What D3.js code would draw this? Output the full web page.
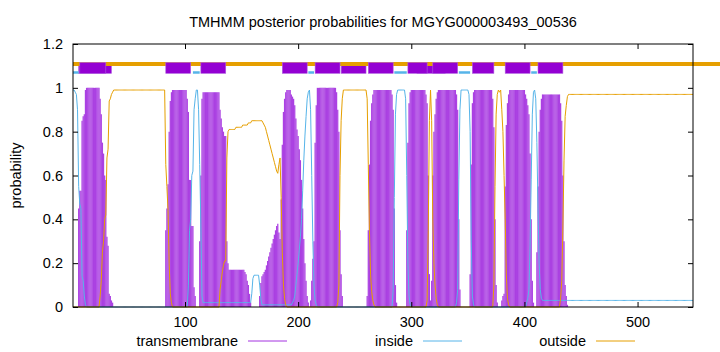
<!DOCTYPE html>
<html>
<head>
<meta charset="utf-8">
<script src="https://cdn.jsdelivr.net/npm/d3@7"></script>
<style>
  body { margin: 0; background: #fff; }
  text { font-family: "Liberation Sans", Arial, sans-serif; fill: #000; }
</style>
</head>
<body>
<div id="chart"></div>
<script>
// posterior probability per residue (residue 1..549), ten values per line
const transmembrane = [
  0,0,0,0,0,.45,.53,.53,.85,.87,
  .88,.99,1,1,1,1,1,1,1,1,
  1,1,1,1,.95,.88,.75,.7,.6,.58,
  .32,.28,.06,.05,.03,.02,0,0,0,0,
  0,0,0,0,0,0,0,0,0,0,
  0,0,0,0,0,0,0,0,0,0,
  0,0,0,0,0,0,0,0,0,0,
  0,0,0,0,0,0,0,0,0,0,
  0,0,.35,.45,.56,.8,.94,.98,.99,.99,
  .99,.99,.99,.99,.99,.99,.99,.99,.99,.99,
  .99,.95,.89,.58,.58,.37,.37,.09,.05,0,
  0,0,.3,.6,.95,.98,.98,.98,.98,.98,
  .98,.98,.98,.98,.98,.98,.98,.98,.98,.98,
  .9,.86,.82,.8,.78,.78,.3,.2,.17,.17,
  .17,.17,.17,.17,.17,.17,.17,.17,.17,.17,
  .17,.17,.16,.15,.12,.1,.06,.02,0,0,
  0,0,0,0,0,.05,.11,.14,.15,.16,
  .17,.19,.21,.23,.25,.27,.29,.31,.33,.35,
  .37,.38,.34,.31,.49,.74,.89,.95,.98,.99,
  .99,.99,.99,.97,.96,.95,.92,.86,.81,.78,
  .72,.67,.58,.45,.31,.2,.12,.05,.02,0,
  .03,.12,.22,.3,.75,.92,1,1,1,1,
  1,1,1,1,1,1,1,1,1,1,
  1,1,1,.98,.9,.8,.35,.15,.05,0,
  0,0,0,0,0,0,0,0,0,0,
  0,0,0,0,0,0,0,0,0,0,
  .05,.35,.65,.85,.93,.97,.99,.99,.99,.99,
  .99,.99,.99,.99,.99,.99,.99,.99,.99,.99,
  .99,.99,.97,.9,.45,.1,.02,0,0,0,
  0,0,0,0,0,.35,.75,.93,.98,.99,
  .99,.99,.99,.99,.99,.99,.99,.99,.99,.99,
  .99,.99,.97,.93,.6,.15,.03,.12,.6,.8,
  .88,.95,.98,.99,.99,.99,.99,.99,.99,.99,
  .99,.99,.99,.99,.99,.99,.99,.99,.99,.97,
  .9,.4,.08,0,0,0,0,0,0,0,
  0,.15,.65,.93,.98,.99,.99,.99,.99,.99,
  .99,.99,.99,.99,.99,.99,.99,.99,.99,.99,
  .99,.95,.82,.4,.1,.02,0,0,0,.03,
  .05,.06,.55,.83,.93,.97,.99,.99,.99,.99,
  .99,.99,.99,.99,.99,.99,.99,.99,.99,.99,
  .97,.95,.92,.88,.7,.4,.12,.02,0,0,
  .25,.55,.8,.9,.95,.97,.97,.97,.97,.97,
  .97,.97,.97,.97,.97,.97,.97,.97,.97,.97,
  .97,.93,.85,.6,.3,.1,.05,.01,0,0,
  0,0,0,0,0,0,0,0,0,0,
  0,0,0,0,0,0,0,0,0,0,
  0,0,0,0,0,0,0,0,0,0,
  0,0,0,0,0,0,0,0,0,0,
  0,0,0,0,0,0,0,0,0,0,
  0,0,0,0,0,0,0,0,0,0,
  0,0,0,0,0,0,0,0,0,0,
  0,0,0,0,0,0,0,0,0,0,
  0,0,0,0,0,0,0,0,0,0,
  0,0,0,0,0,0,0,0,0,0,
  0,0,0,0,0,0,0,0,0
];

const inside = [
  .99,.99,.98,.97,.9,.55,.47,.45,.14,.12,
  .05,.01,0,0,0,0,0,0,0,0,
  0,0,0,0,0,0,0,0,0,0,
  0,0,0,0,0,0,0,0,0,0,
  0,0,0,0,0,0,0,0,0,0,
  0,0,0,0,0,0,0,0,0,0,
  0,0,0,0,0,0,0,0,0,0,
  0,0,0,0,0,0,0,0,0,0,
  0,0,0,0,0,0,0,0,0,0,
  0,0,0,0,0,0,0,0,0,0,
  0,0,.1,.35,.4,.6,.62,.9,.95,.99,
  .99,.9,.65,.38,.05,.02,.02,.02,.02,.02,
  .02,.02,.02,.02,.02,.02,.02,.02,.02,.02,
  .02,.02,.02,.02,.02,.02,.02,.02,.02,.02,
  .02,.02,.02,.02,.02,.02,.02,.02,.02,.02,
  .02,.02,.02,.02,.02,.02,.02,.02,.06,.13,
  .145,.145,.145,.145,.145,.1,.04,.01,.01,.01,
  .01,.01,.01,.01,.01,.01,.01,.01,.01,.01,
  .01,.01,.01,.01,.01,.01,.01,.01,.01,.01,
  .01,.01,.01,.01,.02,.03,.05,.1,.15,.2,
  .26,.32,.4,.53,.67,.78,.87,.95,.98,.99,
  .9,.6,.3,.1,.03,.01,0,0,0,0,
  0,0,0,0,0,0,0,0,0,0,
  0,0,0,0,0,0,0,0,0,0,
  0,0,0,0,0,0,0,0,0,0,
  0,0,0,0,0,0,0,0,0,0,
  0,0,0,0,0,0,0,0,0,0,
  0,0,0,0,0,0,0,0,0,0,
  0,0,0,.08,.5,.88,.97,.99,.99,.99,
  .99,.99,.99,.99,.95,.6,.2,.05,.01,0,
  0,0,0,0,0,0,0,0,0,0,
  0,0,0,0,0,0,0,0,0,0,
  0,0,0,0,0,0,0,0,0,0,
  0,0,0,0,0,0,0,0,0,.02,
  .08,.58,.9,.99,.99,.99,.99,.99,.99,.99,
  .97,.8,.3,.05,.01,0,0,0,0,0,
  0,0,0,0,0,0,0,0,0,0,
  0,0,0,0,0,0,0,0,0,0,
  0,0,0,0,0,0,0,0,0,0,
  0,0,0,0,0,0,0,0,0,0,
  0,.02,.04,.08,.28,.58,.88,.98,.99,.95,
  .75,.45,.2,.08,.04,.03,.03,.03,.03,.03,
  .03,.03,.03,.03,.03,.03,.03,.03,.03,.03,
  .03,.03,.03,.03,.03,.03,.03,.03,.03,.03,
  .03,.03,.03,.03,.03,.03,.03,.03,.03,.03,
  .03,.03,.03,.03,.03,.03,.03,.03,.03,.03,
  .03,.03,.03,.03,.03,.03,.03,.03,.03,.03,
  .03,.03,.03,.03,.03,.03,.03,.03,.03,.03,
  .03,.03,.03,.03,.03,.03,.03,.03,.03,.03,
  .03,.03,.03,.03,.03,.03,.03,.03,.03,.03,
  .03,.03,.03,.03,.03,.03,.03,.03,.03,.03,
  .03,.03,.03,.03,.03,.03,.03,.03,.03,.03,
  .03,.03,.03,.03,.03,.03,.03,.03,.03,.03,
  .03,.03,.03,.03,.03,.03,.03,.03,.03,.03,
  .03,.03,.03,.03,.03,.03,.03,.03,.03
];

const outside = [
  0,0,0,0,0,0,0,0,0,0,
  0,0,0,0,0,0,0,0,0,0,
  0,0,0,0,.05,.12,.25,.3,.4,.42,
  .68,.72,.94,.95,.97,.98,.99,.99,.99,.99,
  .99,.99,.99,.99,.99,.99,.99,.99,.99,.99,
  .99,.99,.99,.99,.99,.99,.99,.99,.99,.99,
  .99,.99,.99,.99,.99,.99,.99,.99,.99,.99,
  .99,.99,.99,.99,.99,.99,.99,.99,.99,.99,
  .99,.99,.65,.55,.44,.2,.06,.02,0,0,
  0,0,0,0,0,0,0,0,0,0,
  0,0,0,0,0,0,0,0,0,0,
  0,0,0,0,0,0,0,0,0,0,
  0,0,0,0,0,0,0,0,0,0,
  .08,.12,.16,.19,.21,.21,.68,.8,.81,.81,
  .81,.81,.81,.81,.82,.82,.82,.82,.82,.82,
  .83,.83,.83,.83,.83,.84,.84,.84,.85,.85,
  .85,.85,.85,.85,.85,.85,.85,.85,.84,.83,
  .82,.8,.78,.76,.74,.72,.7,.68,.66,.64,
  .62,.61,.65,.68,.5,.25,.1,.04,.01,0,
  0,0,0,0,0,0,0,0,0,0,
  0,0,0,0,0,0,0,0,0,0,
  0,0,0,0,0,0,0,0,0,0,
  0,0,0,0,0,0,0,0,0,0,
  0,0,0,0,.02,.1,.6,.85,.95,.99,
  .99,.99,.99,.99,.99,.99,.99,.99,.99,.99,
  .99,.99,.99,.99,.99,.99,.99,.99,.99,.99,
  .95,.65,.35,.15,.07,.03,.01,0,0,0,
  0,0,0,0,0,0,0,0,0,0,
  0,0,0,0,0,0,0,0,0,0,
  0,0,0,0,0,0,0,0,0,0,
  0,0,0,0,0,0,0,0,0,0,
  0,0,0,.03,.35,.85,.99,.85,.4,.2,
  .1,.04,.01,0,0,0,0,0,0,0,
  0,0,0,0,0,0,0,0,0,0,
  0,0,0,0,0,0,0,0,0,0,
  0,0,0,0,0,0,0,0,0,0,
  0,0,0,0,0,0,0,0,0,0,
  0,0,.1,.55,.88,.97,.99,.98,.99,.9,
  .8,.6,.4,.15,.04,.01,0,0,0,0,
  0,0,0,0,0,0,0,0,0,0,
  0,0,0,0,0,0,0,0,0,0,
  0,0,0,0,0,0,0,0,0,0,
  0,0,0,0,0,0,0,0,0,0,
  0,.04,.12,.37,.67,.87,.92,.96,.97,.97,
  .97,.97,.97,.97,.97,.97,.97,.97,.97,.97,
  .97,.97,.97,.97,.97,.97,.97,.97,.97,.97,
  .97,.97,.97,.97,.97,.97,.97,.97,.97,.97,
  .97,.97,.97,.97,.97,.97,.97,.97,.97,.97,
  .97,.97,.97,.97,.97,.97,.97,.97,.97,.97,
  .97,.97,.97,.97,.97,.97,.97,.97,.97,.97,
  .97,.97,.97,.97,.97,.97,.97,.97,.97,.97,
  .97,.97,.97,.97,.97,.97,.97,.97,.97,.97,
  .97,.97,.97,.97,.97,.97,.97,.97,.97,.97,
  .97,.97,.97,.97,.97,.97,.97,.97,.97,.97,
  .97,.97,.97,.97,.97,.97,.97,.97,.97
];

// predicted topology drawn above the curves: [first residue, last residue]
const tmBoxesUnder = [[6, 35], [238, 260], [305, 330]];
const tmBoxesOver = [[7, 30], [83, 105], [114, 136], [186, 208], [215, 237], [262, 284],
  [297, 314], [319, 341], [354, 373], [383, 405], [412, 434]];
const insideSegments = [[1, 6], [107, 113], [209, 214], [285, 296], [342, 352], [406, 411]];
const outsideSegments = [[1, 573]];

const xTicks = [100, 200, 300, 400, 500];
const yTicks = [0, 0.2, 0.4, 0.6, 0.8, 1, 1.2];
const yTickLabels = ["0", "0.2", "0.4", "0.6", "0.8", "1", "1.2"];
const seqLength = 549;
const title = "TMHMM posterior probabilities for MGYG000003493_00536";

const width = 720;
const height = 352;
const margin = { top: 44, right: 27, bottom: 45, left: 73 };

const colors = { tm: "#9400d3", tmFill: "#a432e0", inside: "#56b4e9", outside: "#e69f00" };

const svg = d3.select("#chart")
    .append("svg")
    .attr("width", width)
    .attr("height", height);

const x = d3.scaleLinear()
    .domain([1, seqLength])
    .range([margin.left, width - margin.right]);

const y = d3.scaleLinear()
    .domain([0, 1.2])
    .range([height - margin.bottom, margin.top]);

const residues = d3.range(1, seqLength + 1);

// transmembrane probability as impulses
svg.append("g")
    .selectAll("line")
    .data(residues.filter(r => transmembrane[r - 1] > 0))
    .enter()
    .append("line")
    .attr("x1", r => x(r))
    .attr("x2", r => x(r))
    .attr("y1", y(0))
    .attr("y2", r => y(transmembrane[r - 1]))
    .attr("stroke", colors.tmFill)
    .attr("stroke-opacity", 0.92)
    .attr("stroke-width", 1.25);

const line = values => d3.line()
    .x(r => x(r))
    .y(r => y(values[r - 1]))(residues);

svg.append("path")
    .attr("d", line(inside))
    .attr("fill", "none")
    .attr("stroke", colors.inside)
    .attr("stroke-width", 1);

svg.append("path")
    .attr("d", line(outside))
    .attr("fill", "none")
    .attr("stroke", colors.outside)
    .attr("stroke-width", 1);

// topology strip at the top
const boxTop = y(1.115), boxBottom = y(1.066);
function drawBoxes(list) {
    svg.append("g")
        .selectAll("rect")
        .data(list)
        .enter()
        .append("rect")
        .attr("x", d => x(d[0]))
        .attr("width", d => x(d[1]) - x(d[0]))
        .attr("y", boxTop)
        .attr("height", boxBottom - boxTop)
        .attr("fill", colors.tm)
        .attr("stroke", "#b060e0")
        .attr("stroke-width", 0.6);
}

drawBoxes(tmBoxesUnder);

svg.append("g")
    .selectAll("line")
    .data(outsideSegments)
    .enter()
    .append("line")
    .attr("x1", d => x(d[0]))
    .attr("x2", d => x(d[1]))
    .attr("y1", y(1.109))
    .attr("y2", y(1.109))
    .attr("stroke", colors.outside)
    .attr("stroke-width", 4);

svg.append("g")
    .selectAll("line")
    .data(insideSegments)
    .enter()
    .append("line")
    .attr("x1", d => x(d[0]))
    .attr("x2", d => x(d[1]))
    .attr("y1", y(1.07))
    .attr("y2", y(1.07))
    .attr("stroke", colors.inside)
    .attr("stroke-width", 2.5);

drawBoxes(tmBoxesOver);

// axes, ticks pointing inwards on all four sides
const tickLen = 5;
const yFormat = d => yTickLabels[yTicks.indexOf(d)];

svg.append("g")
    .attr("transform", `translate(${margin.left},0)`)
    .call(d3.axisLeft(y).tickValues(yTicks).tickFormat(yFormat).tickSize(-tickLen).tickPadding(10));
svg.append("g")
    .attr("transform", `translate(${width - margin.right},0)`)
    .call(d3.axisRight(y).tickValues(yTicks).tickFormat("").tickSize(-tickLen));
svg.append("g")
    .attr("transform", `translate(0,${height - margin.bottom})`)
    .call(d3.axisBottom(x).tickValues(xTicks).tickSize(-tickLen).tickPadding(10));
svg.append("g")
    .attr("transform", `translate(0,${margin.top})`)
    .call(d3.axisTop(x).tickValues(xTicks).tickFormat("").tickSize(-tickLen));

svg.selectAll(".domain").remove();
svg.selectAll(".tick line").attr("stroke", "#000");
svg.selectAll(".tick text")
    .style("font-family", "'Liberation Sans', Arial, sans-serif")
    .style("font-size", "14.5px")
    .attr("fill", "#000");

svg.append("rect")
    .attr("x", margin.left)
    .attr("y", margin.top)
    .attr("width", width - margin.left - margin.right)
    .attr("height", height - margin.top - margin.bottom)
    .attr("fill", "none")
    .attr("stroke", "#000")
    .attr("stroke-width", 1);

// title and axis label
svg.append("text")
    .attr("x", (margin.left + width - margin.right) / 2)
    .attr("y", 27)
    .attr("text-anchor", "middle")
    .style("font-size", "14.5px")
    .text(title);

svg.append("text")
    .attr("transform", `translate(21,${(margin.top + height - margin.bottom) / 2}) rotate(-90)`)
    .attr("text-anchor", "middle")
    .style("font-size", "14.5px")
    .text("probability");

// legend along the bottom
const legend = [
    { label: "transmembrane", color: colors.tmFill, end: 238 },
    { label: "inside", color: colors.inside, end: 413 },
    { label: "outside", color: colors.outside, end: 586 }
];

const items = svg.append("g")
    .selectAll("g")
    .data(legend)
    .enter()
    .append("g");

items.append("text")
    .attr("x", d => d.end)
    .attr("y", 346)
    .attr("text-anchor", "end")
    .style("font-size", "14.5px")
    .text(d => d.label);

items.append("line")
    .attr("x1", d => d.end + 10)
    .attr("x2", d => d.end + 49)
    .attr("y1", 341)
    .attr("y2", 341)
    .attr("stroke", d => d.color)
    .attr("stroke-width", 1);
</script>
</body>
</html>
